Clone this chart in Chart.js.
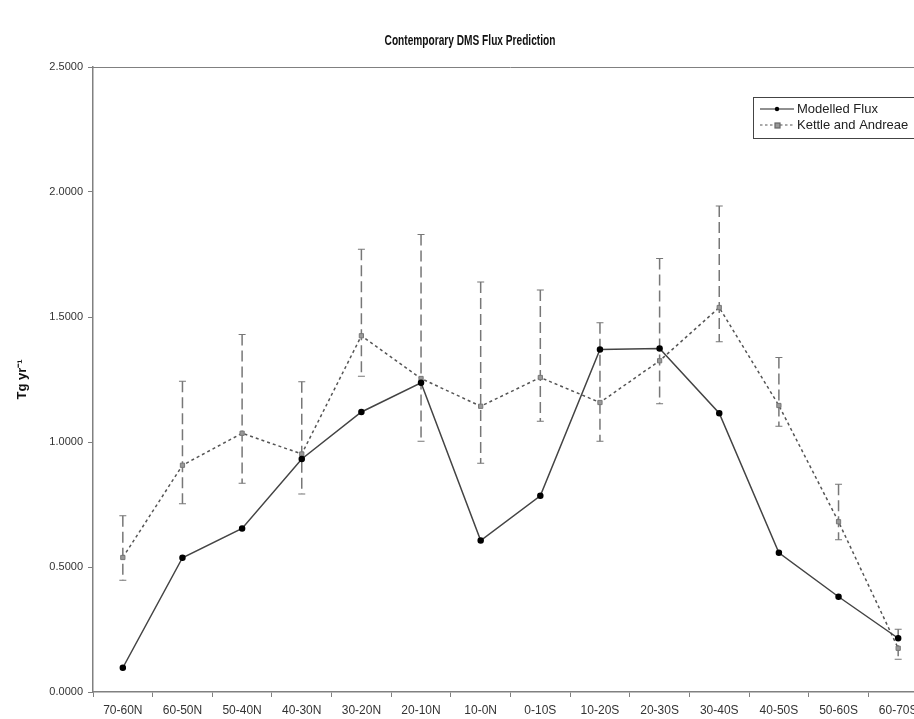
<!DOCTYPE html>
<html>
<head>
<meta charset="utf-8">
<title>Contemporary DMS Flux Prediction</title>
<script src="https://cdn.jsdelivr.net/npm/chart.js@4/dist/chart.umd.min.js"></script>
<style>
  html, body { margin: 0; padding: 0; background: #fff; overflow: hidden; }
  #wrap { width: 914px; height: 719px; overflow: hidden; }
</style>
</head>
<body>
<div id="wrap"><canvas id="fluxChart" width="940" height="719"></canvas></div>
<script>
var latBands = ["70-60N", "60-50N", "50-40N", "40-30N", "30-20N", "20-10N", "10-0N",
  "0-10S", "10-20S", "20-30S", "30-40S", "40-50S", "50-60S", "60-70S"];

var modelledFlux = [0.097, 0.537, 0.654, 0.932, 1.120, 1.237, 0.606,
  0.785, 1.370, 1.374, 1.115, 0.557, 0.381, 0.215];

var kettleAndreae = [0.538, 0.907, 1.035, 0.952, 1.425, 1.254, 1.143,
  1.258, 1.158, 1.325, 1.538, 1.146, 0.681, 0.175];
var kettleUpper = [0.705, 1.243, 1.430, 1.241, 1.771, 1.830, 1.640,
  1.608, 1.477, 1.734, 1.944, 1.338, 0.831, 0.251];
var kettleLower = [0.447, 0.753, 0.835, 0.792, 1.263, 1.003, 0.915,
  1.083, 1.003, 1.153, 1.401, 1.063, 0.609, 0.131];

var chartTitle = 'Contemporary DMS Flux Prediction';
var FONT = "'Liberation Sans', Arial, sans-serif";

// dashed error bars for the Kettle and Andreae series
var errorBars = {
  id: 'errorBars',
  beforeDatasetsDraw: function(chart) {
    var ctx = chart.ctx;
    var x = chart.scales.x, y = chart.scales.y;
    ctx.save();
    ctx.strokeStyle = '#777';
    for (var i = 0; i < latBands.length; i++) {
      var px = x.getPixelForValue(i);
      var top = y.getPixelForValue(kettleUpper[i]);
      var bot = y.getPixelForValue(kettleLower[i]);
      ctx.lineWidth = 1.5;
      ctx.setLineDash([11, 5]);
      ctx.beginPath();
      ctx.moveTo(px, top);
      ctx.lineTo(px, bot);
      ctx.stroke();
      ctx.setLineDash([]);
      ctx.lineWidth = 1.2;
      ctx.beginPath();
      ctx.moveTo(px - 3.5, top); ctx.lineTo(px + 3.5, top);
      ctx.moveTo(px - 3.5, bot); ctx.lineTo(px + 3.5, bot);
      ctx.stroke();
    }
    ctx.restore();
  }
};

// condensed bold title, plot frame top edge and the boxed legend
var frameAndLegend = {
  id: 'frameAndLegend',
  afterDraw: function(chart) {
    var ctx = chart.ctx, area = chart.chartArea;
    ctx.save();

    ctx.save();
    ctx.translate(chart.width / 2, 41);
    ctx.scale(0.7, 1);
    ctx.font = 'bold 14.5px ' + FONT;
    ctx.fillStyle = '#111';
    ctx.textAlign = 'center';
    ctx.textBaseline = 'middle';
    ctx.fillText(chartTitle, 0, 0);
    ctx.restore();

    ctx.strokeStyle = '#808080';
    ctx.lineWidth = 1;
    ctx.beginPath();
    ctx.moveTo(area.left, area.top + 0.5);
    ctx.lineTo(area.right, area.top + 0.5);
    ctx.stroke();

    var bx = 753.5, by = 97.5;
    ctx.fillStyle = '#fff';
    ctx.fillRect(bx, by, 200, 41);
    ctx.strokeStyle = '#444';
    ctx.strokeRect(bx, by, 200, 41);

    ctx.font = '13px ' + FONT;
    ctx.textBaseline = 'middle';
    ctx.textAlign = 'left';

    // Modelled Flux
    ctx.strokeStyle = '#222';
    ctx.lineWidth = 1.2;
    ctx.beginPath(); ctx.moveTo(760, 109); ctx.lineTo(794, 109); ctx.stroke();
    ctx.fillStyle = '#000';
    ctx.beginPath(); ctx.arc(777, 109, 2.2, 0, Math.PI * 2); ctx.fill();
    ctx.fillStyle = '#222';
    ctx.fillText('Modelled Flux', 797, 109);

    // Kettle and Andreae
    ctx.strokeStyle = '#555';
    ctx.setLineDash([2.5, 2.5]);
    ctx.beginPath(); ctx.moveTo(760, 125); ctx.lineTo(794, 125); ctx.stroke();
    ctx.setLineDash([]);
    ctx.fillStyle = '#999';
    ctx.fillRect(775, 123, 5, 5);
    ctx.strokeStyle = '#666';
    ctx.strokeRect(775, 123, 5, 5);
    ctx.fillStyle = '#222';
    ctx.fillText('Kettle and Andreae', 797, 125);
    ctx.restore();
  }
};

var ctx = document.getElementById('fluxChart').getContext('2d');
var fluxChart = new Chart(ctx, {
  type: 'line',
  data: {
    labels: latBands,
    datasets: [{
        label: 'Modelled Flux',
        data: modelledFlux,
        borderColor: '#444',
        borderWidth: 1.5,
        backgroundColor: '#000',
        pointBackgroundColor: '#000',
        pointBorderColor: '#000',
        pointRadius: 2.5,
        pointStyle: 'circle',
        tension: 0
      },
      {
        label: 'Kettle and Andreae',
        data: kettleAndreae,
        borderColor: '#555',
        borderWidth: 1.5,
        borderDash: [3, 3],
        pointBackgroundColor: '#999',
        pointBorderColor: '#777',
        pointBorderWidth: 1,
        pointRadius: 3,
        pointStyle: 'rect',
        tension: 0
      }
    ]
  },
  options: {
    responsive: false,
    animation: false,
    events: [],
    layout: { padding: { left: 0, right: 12, top: 67, bottom: 0 } },
    plugins: {
      legend: { display: false },
      tooltip: { enabled: false },
      title: { display: false }
    },
    scales: {
      x: {
        offset: true,
        grid: { display: true, offset: true, drawOnChartArea: false, drawTicks: true,
          tickLength: 5, color: '#808080' },
        border: { display: true, color: '#808080', width: 1.5 },
        ticks: { color: '#333', font: { family: FONT, size: 12 }, padding: 6,
          maxRotation: 0, autoSkip: false },
        afterFit: function(scale) { scale.height = 27; }
      },
      y: {
        min: 0,
        max: 2.5,
        grid: { display: true, drawOnChartArea: false, drawTicks: true,
          tickLength: 5, color: '#808080' },
        border: { display: true, color: '#808080', width: 1.5 },
        ticks: {
          stepSize: 0.5,
          color: '#333',
          padding: 5,
          font: { family: FONT, size: 11 },
          callback: function(v) { return Number(v).toFixed(4); }
        },
        title: {
          display: true,
          text: 'Tg yr⁻¹',
          color: '#111',
          font: { family: FONT, size: 13, weight: 'bold' },
          padding: { top: 15, bottom: 0 }
        },
        afterFit: function(scale) { scale.width = 93; }
      }
    }
  },
  plugins: [errorBars, frameAndLegend]
});
</script>
</body>
</html>
